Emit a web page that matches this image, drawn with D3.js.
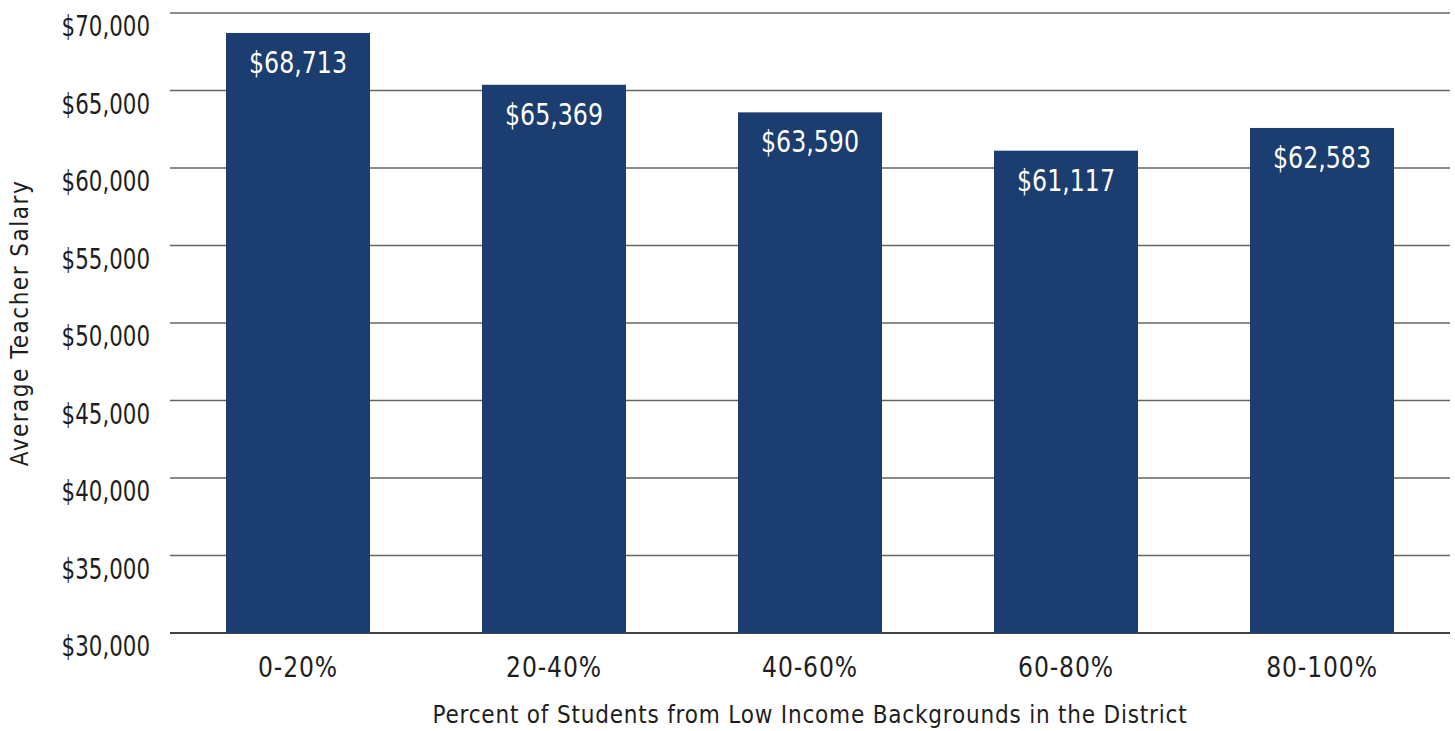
<!DOCTYPE html>
<html>
<head>
<meta charset="utf-8">
<script src="https://cdn.jsdelivr.net/npm/d3@7"></script>
<style>
  body { margin: 0; background: #fff; }
  text { font-family: "DejaVu Sans Condensed", "DejaVu Sans", sans-serif; }
</style>
</head>
<body>
<div id="chart"></div>
<script>
const categories = ["0-20%", "20-40%", "40-60%", "60-80%", "80-100%"];
const salaries = [68713, 65369, 63590, 61117, 62583];
const yTicks = [30000, 35000, 40000, 45000, 50000, 55000, 60000, 65000, 70000];

const w = 1455, h = 731;
const margin = { top: 13, right: 5, bottom: 98, left: 170 };

const svg = d3.select("#chart").append("svg")
  .attr("width", w)
  .attr("height", h);

const x = d3.scaleBand()
  .domain(categories)
  .range([margin.left, w - margin.right])
  .paddingInner(0.4375)
  .paddingOuter(0.21875);

const y = d3.scaleLinear()
  .domain([30000, 70000])
  .range([h - margin.bottom, margin.top]);

const fmt = d3.format("$,");

// the original font is a narrow grotesque, so squeeze the glyphs sideways
const squeeze = (sel, sx, x0) => sel
  .attr("x", x0 / sx)
  .attr("transform", `scale(${sx},1)`);

// gridlines
svg.append("g")
  .selectAll("line")
  .data(yTicks)
  .enter()
  .append("line")
  .attr("x1", margin.left)
  .attr("x2", w - margin.right)
  .attr("y1", (d) => y(d))
  .attr("y2", (d) => y(d))
  .attr("stroke", (d) => d === 30000 ? "#444" : "#666")
  .attr("stroke-width", (d) => d === 30000 ? 2 : 1.3);

// y axis labels
const yAxis = d3.axisLeft(y).tickValues(yTicks).tickFormat(fmt).tickSize(0);
svg.append("g")
  .attr("transform", `translate(${margin.left},0)`)
  .call(yAxis)
  .call((g) => g.select(".domain").remove())
  .selectAll("text")
  .attr("font-size", 29)
  .attr("fill", "#1e1e1e")
  .attr("dy", "0.78em")
  .call(squeeze, 0.82, -20);

// bars
svg.append("g")
  .selectAll("rect")
  .data(salaries)
  .enter()
  .append("rect")
  .attr("x", (d, i) => x(categories[i]))
  .attr("y", (d) => y(d))
  .attr("width", x.bandwidth())
  .attr("height", (d) => y(30000) - y(d))
  .attr("fill", "#1b3d70");

// value labels
const labelSx = 0.85;
svg.append("g")
  .selectAll("text")
  .data(salaries)
  .enter()
  .append("text")
  .attr("x", (d, i) => (x(categories[i]) + x.bandwidth() / 2) / labelSx)
  .attr("y", (d) => y(d) + 40)
  .attr("transform", `scale(${labelSx},1)`)
  .attr("text-anchor", "middle")
  .attr("font-size", 31)
  .attr("fill", "#fff")
  .text((d) => fmt(d));

// x axis labels
const xAxis = d3.axisBottom(x).tickSize(0);
svg.append("g")
  .attr("transform", `translate(0,${y(30000)})`)
  .call(xAxis)
  .call((g) => g.select(".domain").remove())
  .selectAll("text")
  .attr("font-size", 29)
  .attr("fill", "#1e1e1e")
  .attr("y", 44)
  .attr("dy", 0)
  .attr("letter-spacing", "1px")
  .call(squeeze, 0.9, 0);

// axis titles
svg.append("text")
  .attr("x", (margin.left + w - margin.right) / 2)
  .attr("y", 723)
  .attr("text-anchor", "middle")
  .attr("font-size", 24)
  .attr("fill", "#1e1e1e")
  .attr("letter-spacing", "0.8px")
  .text("Percent of Students from Low Income Backgrounds in the District");

svg.append("text")
  .attr("transform", `translate(28,${(margin.top + h - margin.bottom) / 2}) rotate(-90)`)
  .attr("text-anchor", "middle")
  .attr("font-size", 24)
  .attr("fill", "#1e1e1e")
  .attr("letter-spacing", "1.5px")
  .text("Average Teacher Salary");
</script>
</body>
</html>
